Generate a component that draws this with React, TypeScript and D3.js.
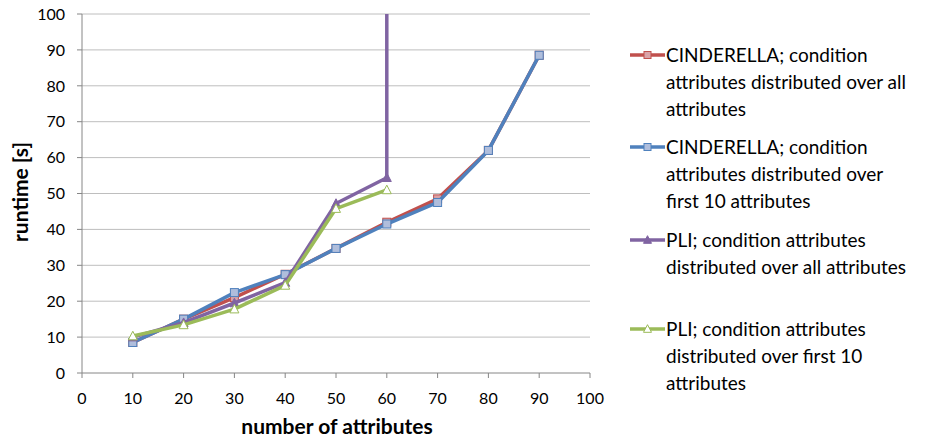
import React from "react";
import * as d3 from "d3";

const xTicks = [0, 10, 20, 30, 40, 50, 60, 70, 80, 90, 100];
const yTicks = [0, 10, 20, 30, 40, 50, 60, 70, 80, 90, 100];

const cinderellaAllX = [10, 20, 30, 40, 50, 60, 70, 80, 90];
const cinderellaAllY = [8.5, 15, 21, 27.5, 34.7, 42, 48.5, 62, 88.5];
const cinderellaFirstX = [10, 20, 30, 40, 50, 60, 70, 80, 90];
const cinderellaFirstY = [8.5, 15, 22.4, 27.4, 34.7, 41.5, 47.5, 62, 88.5];
const pliAllX = [10, 20, 30, 40, 50, 60, 60];
const pliAllY = [10, 14, 19.5, 25.2, 47.2, 54.4, 300];
const pliFirstX = [10, 20, 30, 40, 50, 60];
const pliFirstY = [10.3, 13.4, 17.8, 24.4, 45.8, 51];

const legendLabels = [
  ["CINDERELLA; condition", "attributes distributed over all", "attributes"],
  ["CINDERELLA; condition", "attributes distributed over", "first 10 attributes"],
  ["PLI; condition attributes", "distributed over all attributes"],
  ["PLI; condition attributes", "distributed over first 10", "attributes"],
];

const series = [
  { xs: cinderellaAllX, ys: cinderellaAllY, color: "#C0504D", marker: "square", fill: "#D9A3A8", stroke: "#C0504D", legendY: 55 },
  { xs: cinderellaFirstX, ys: cinderellaFirstY, color: "#4F81BD", marker: "square", fill: "#B0BEDC", stroke: "#4F81BD", legendY: 147 },
  { xs: pliAllX, ys: pliAllY, color: "#8064A2", marker: "triangle", fill: "#8064A2", stroke: "#8064A2", legendY: 240 },
  { xs: pliFirstX, ys: pliFirstY, color: "#9BBB59", marker: "triangle", fill: "#FFFFFF", stroke: "#9BBB59", legendY: 329 },
];

const FONT = "Lato, 'Open Sans', sans-serif";

export default function App() {
  const left = 82, right = 590, top = 14, bottom = 373;
  const x = d3.scaleLinear().domain([0, 100]).range([left, right]);
  const y = d3.scaleLinear().domain([0, 100]).range([bottom, top]);

  const line = d3.line<[number, number]>().x((d) => x(d[0])).y((d) => y(d[1]));

  const marker = (kind: string, cx: number, cy: number, size: number, fill: string, stroke: string, key: string) => {
    if (kind === "square") {
      return <rect key={key} x={cx - size / 2} y={cy - size / 2} width={size} height={size} fill={fill} stroke={stroke} strokeWidth={1} />;
    }
    const h = size * 0.95;
    const pts = `${cx},${cy - h / 2 - 1} ${cx - size / 2 - 0.5},${cy + h / 2} ${cx + size / 2 + 0.5},${cy + h / 2}`;
    return <polygon key={key} points={pts} fill={fill} stroke={stroke} strokeWidth={1} />;
  };

  return (
    <svg width={933} height={444} style={{ position: "absolute", left: 0, top: 0, background: "#fff" }}>
      <defs>
        <clipPath id="plot">
          <rect x={left - 10} y={top} width={right - left + 20} height={bottom - top + 10} />
        </clipPath>
      </defs>
      {yTicks.map((t) => (
        <line key={"g" + t} x1={left} x2={right} y1={y(t)} y2={y(t)} stroke={t === 0 ? "#868686" : "#BEBEBE"} strokeWidth={1} />
      ))}
      <line x1={left} x2={left} y1={top} y2={bottom} stroke="#868686" strokeWidth={1} />
      {yTicks.map((t) => (
        <g key={"yt" + t}>
          <line x1={left - 5} x2={left} y1={y(t)} y2={y(t)} stroke="#868686" />
          <text x={left - 17} y={y(t)} dy="0.36em" textAnchor="end" fontSize={16} fontFamily={FONT} fill="#000">{t}</text>
        </g>
      ))}
      {xTicks.map((t) => (
        <g key={"xt" + t}>
          <line x1={x(t)} x2={x(t)} y1={bottom} y2={bottom + 5} stroke="#868686" />
          <text x={x(t)} y={bottom + 31} textAnchor="middle" fontSize={16} fontFamily={FONT} fill="#000">{t}</text>
        </g>
      ))}
      <text transform={`translate(28,192) rotate(-90)`} textAnchor="middle" fontSize={21} fontWeight="bold" fontFamily={FONT}>runtime [s]</text>
      <text x={337} y={434} textAnchor="middle" fontSize={21} fontWeight="bold" fontFamily={FONT}>number of attributes</text>

      <g clipPath="url(#plot)">
        {series.map((s, i) => {
          const pts: [number, number][] = s.xs.map((v, j) => [v, s.ys[j]]);
          return (
            <g key={"s" + i}>
              <path d={line(pts) || ""} fill="none" stroke={s.color} strokeWidth={3.5} strokeLinejoin="round" />
              {pts.filter((p) => p[1] <= 100).map((p, j) => marker(s.marker, x(p[0]), y(p[1]), 8, s.fill, s.stroke, "m" + i + "-" + j))}
            </g>
          );
        })}
      </g>

      {series.map((s, i) => (
        <g key={"l" + i}>
          <line x1={630} x2={665} y1={s.legendY} y2={s.legendY} stroke={s.color} strokeWidth={3.5} />
          {marker(s.marker, 647.5, s.legendY, 7, s.fill, s.stroke, "lm" + i)}
          {legendLabels[i].map((t, j) => (
            <text key={j} x={666} y={s.legendY + j * 27.3} dy="0.36em" fontSize={19} fontFamily={FONT} fill="#000">{t}</text>
          ))}
        </g>
      ))}
    </svg>
  );
}
